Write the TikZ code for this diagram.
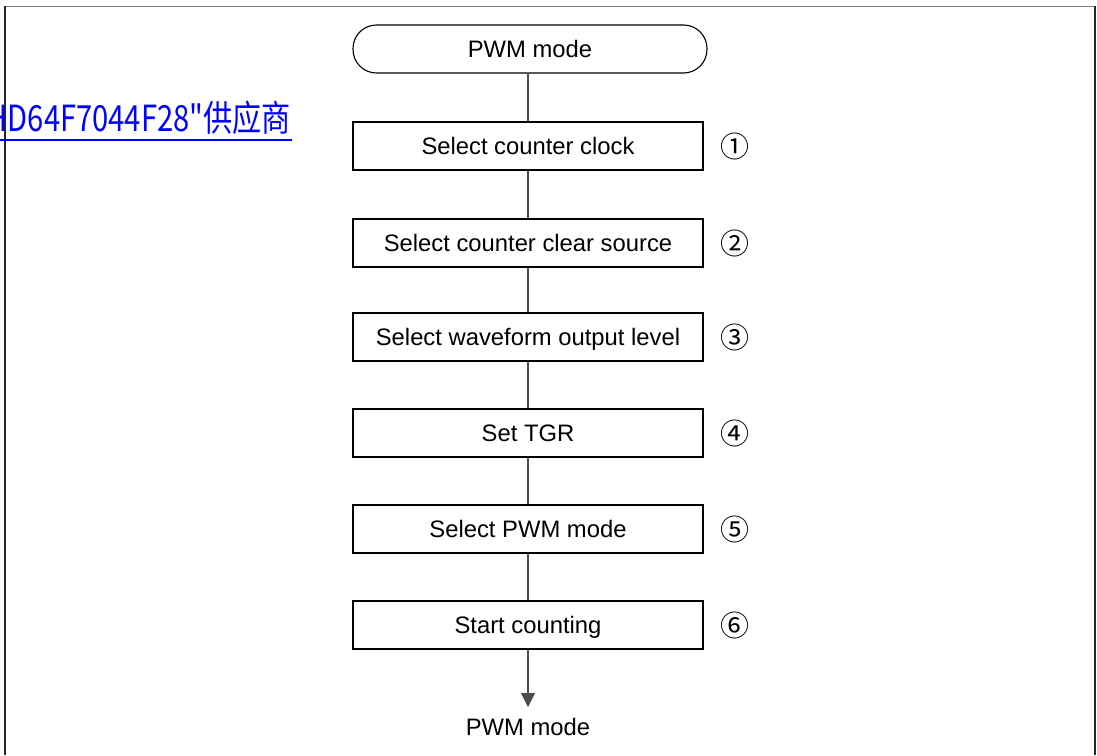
\documentclass[tikz,border=0pt]{standalone}
\usepackage{fontspec}
\setmainfont{Liberation Sans}
\newfontfamily\cjk{Noto Sans CJK SC}
\usetikzlibrary{arrows.meta}

\begin{document}
\begin{tikzpicture}[x=1pt,y=-1pt,>={Triangle[width=14pt,length=14pt]},
    stepbox/.style={draw,line width=1.1pt,minimum width=350pt,minimum height=48pt,
      inner sep=0pt,text height=17pt,text depth=0pt,font=\fontsize{23.8}{26}\selectfont},
    termbox/.style={stepbox,minimum width=354pt,rounded corners=23.5pt},
    conn/.style={line width=1.3pt,draw=black!70},
    num/.style={inner sep=0pt,font=\cjk\fontsize{29}{29}\selectfont}]
                \useasboundingbox (0,0) rectangle (1097,755);
                % frame
                \draw [line width=1.6pt,black!50] (5,6.5) -- (1095,6.5);
                \draw [line width=1.6pt,black!85] (5,755) -- (5,6);
                \draw [line width=1.6pt,black!85] (1095,755) -- (1095,6);
                % link text
                \node [anchor=base east,inner sep=0pt,text=blue,font=\cjk\fontsize{36}{36}\selectfont] (part) at (291,131) {\scalebox{0.81}[1]{HD64F7044F28"供应商}};
                \draw [blue,line width=2pt] (-5,139.5) -- (292,139.5);
                % flow
                \node [termbox] (start) at (530,49) {PWM mode};
                \node [stepbox] (s1) at (528,146) {Select counter clock};
                \node [stepbox] (s2) at (528,243) {Select counter clear source};
                \node [stepbox] (s3) at (528,337) {Select waveform output level};
                \node [stepbox] (s4) at (528,433) {Set TGR};
                \node [stepbox] (s5) at (528,529) {Select PWM mode};
                \node [stepbox] (s6) at (528,625) {Start counting};
                \coordinate (tip) at (528,707);
                \node [inner sep=0pt,font=\fontsize{23.8}{26}\selectfont] (finish) at (528,727) {PWM mode};
                \node [num] (n1) at (735,146) {①};
                \node [num] (n2) at (735,243) {②};
                \node [num] (n3) at (735,337) {③};
                \node [num] (n4) at (735,433) {④};
                \node [num] (n5) at (735,529) {⑤};
                \node [num] (n6) at (735,625) {⑥};
                \draw [conn] (s1.north |- start.south) -- (s1);
                \draw [conn] (s1) -- (s2);
                \draw [conn] (s2) -- (s3);
                \draw [conn] (s3) -- (s4);
                \draw [conn] (s4) -- (s5);
                \draw [conn] (s5) -- (s6);
                \draw [conn,->] (s6) -- (tip);
\end{tikzpicture}
\end{document}
